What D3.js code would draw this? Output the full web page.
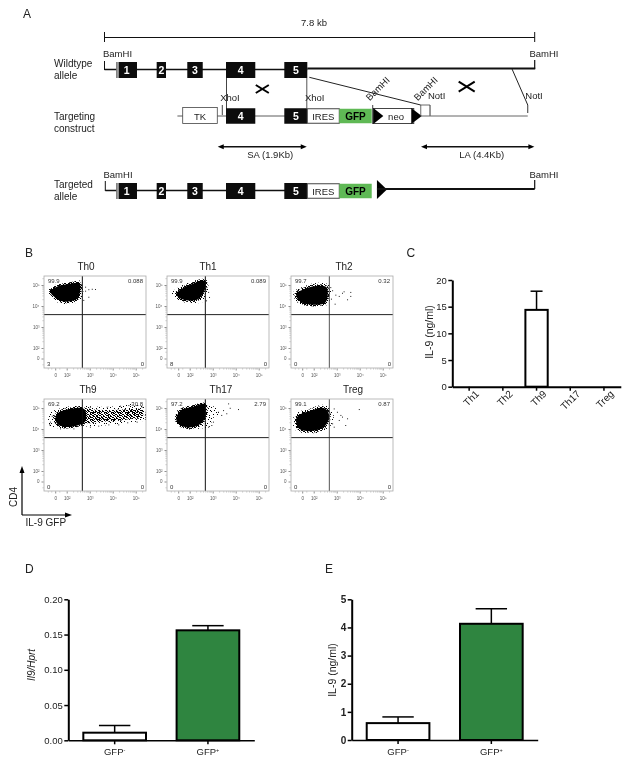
<!DOCTYPE html>
<html>
<head>
<meta charset="utf-8">
<script src="https://cdn.jsdelivr.net/npm/d3@7"></script>
<style>
  html, body { margin: 0; padding: 0; background: #fff; }
  text { font-family: "Liberation Sans", Arial, sans-serif; fill: #222; }
  svg { filter: blur(0.35px); }
</style>
</head>
<body>
<script>
// ---- panel A, positions along the locus in kb
const spanKb = 7.8;
const exonNames = ["1", "2", "3", "4", "5"];
const exonStart = [0.214, 0.946, 1.501, 2.203, 3.26];
const exonEnd = [0.589, 1.115, 1.781, 2.734, 3.677];
const cassetteNames = ["IRES", "GFP"];
const cassetteStart = [3.677, 4.257];
const cassetteEnd = [4.257, 4.845];
const tkSpan = [1.418, 2.045];
const neoSpan = [4.874, 5.752];
const homologyNames = ["SA (1.9Kb)", "LA (4.4Kb)"];
const homologyStart = [2.053, 5.739];
const homologyEnd = [3.667, 7.794];

// ---- panel B, flow plots, values in log10 decades
const flowNames = ["Th0", "Th1", "Th2", "Th9", "Th17", "Treg"];
const upperLeft = ["99.9", "99.9", "99.7", "69.2", "97.2", "99.1"];
const upperRight = ["0.088", "0.089", "0.32", "30.8", "2.79", "0.87"];
const lowerLeft = ["3", "8", "0", "0", "0", "0"];
const lowerRight = ["0", "0", "0", "0", "0", "0"];
const flowTickValues = [1.5, 2, 3, 4, 5];
const flowTickLabels = ["0", "10²", "10³", "10⁴", "10⁵"];
const flowMinorX = [1.2, 1.35, 1.7, 2.3, 2.48, 2.6, 2.7, 2.78, 2.85, 2.9, 2.95, 3.3, 3.48, 3.6, 3.7, 3.78, 3.85, 3.9, 3.95, 4.3, 4.48, 4.6, 4.7, 4.78, 4.85, 4.9, 4.95, 5.3];
const flowMinorY = [1.2, 1.8, 2.3, 2.48, 2.6, 2.7, 2.78, 2.85, 2.9, 2.95, 3.3, 3.48, 3.6, 3.7, 3.78, 3.85, 3.9, 3.95, 4.3, 4.48, 4.6, 4.7, 4.78, 4.85, 4.9, 4.95, 5.3];
const gateX = 2.68;
const gateY = 3.59;

// solid part of each cloud
const coreTh0 = [[1.3, 4.68], [1.57, 4.92], [2, 5.03], [2.55, 5.08], [2.58, 4.68], [2.43, 4.32], [1.86, 4.21], [1.49, 4.41]];
const coreTh1 = [[1.42, 4.59], [1.71, 4.86], [2.14, 5.06], [2.58, 5.22], [2.7, 5.11], [2.65, 4.75], [2.36, 4.32], [1.85, 4.27], [1.49, 4.43]];
const coreTh2 = [[1.24, 4.59], [1.57, 4.8], [2.07, 4.95], [2.55, 4.9], [2.61, 4.51], [2.5, 4.16], [1.71, 4.08], [1.35, 4.27]];
const coreTh9 = [[1.53, 4.63], [1.71, 4.82], [2.14, 4.95], [2.58, 5.01], [2.8, 4.9], [2.8, 4.35], [2.43, 4.16], [1.85, 4.11], [1.57, 4.27]];
const coreTh17 = [[1.42, 4.54], [1.63, 4.9], [2.14, 5.06], [2.65, 5.18], [2.7, 4.67], [2.5, 4.27], [2.07, 4.08], [1.63, 4.16], [1.45, 4.35]];
const coreTreg = [[1.24, 4.48], [1.42, 4.7], [1.85, 4.86], [2.36, 5.01], [2.61, 4.86], [2.65, 4.43], [2.36, 4.03], [1.71, 3.9], [1.35, 4.03]];
const cores = [coreTh0, coreTh1, coreTh2, coreTh9, coreTh17, coreTreg];

// thin edge around each cloud
const fringeTh0 = [[1.15, 4.72], [1.5, 5], [2, 5.12], [2.62, 5.2], [2.72, 4.8], [2.65, 4.3], [2.3, 4.12], [1.75, 4.12], [1.35, 4.35]];
const fringeTh1 = [[1.22, 4.6], [1.6, 4.95], [2.1, 5.17], [2.6, 5.32], [2.78, 5.15], [2.8, 4.7], [2.6, 4.22], [1.9, 4.15], [1.35, 4.35]];
const fringeTh2 = [[1.12, 4.65], [1.5, 4.9], [2.1, 5.1], [2.68, 5], [2.75, 4.5], [2.65, 4.08], [1.7, 4], [1.25, 4.2]];
const fringeTh9 = [[1.27, 4.75], [2, 5.06], [2.65, 5.11], [3.74, 5.05], [5.04, 5.18], [5.5, 4.98], [5.5, 4.48], [4.75, 4.32], [3.88, 4.19], [2.72, 4.11], [1.71, 4.03], [1.24, 4.19]];
const fringeTh17 = [[2.65, 5.18], [3.16, 5.01], [3.33, 4.75], [3.01, 4.51], [2.87, 4.11], [2.58, 4.03], [1.6, 4.05], [1.3, 4.5], [1.55, 4.98], [2.1, 5.15]];
const fringeTreg = [[1.1, 4.5], [1.35, 4.82], [1.85, 4.98], [2.4, 5.15], [2.78, 5], [2.85, 4.4], [2.5, 3.92], [1.7, 3.8], [1.2, 3.95]];
const fringes = [fringeTh0, fringeTh1, fringeTh2, fringeTh9, fringeTh17, fringeTreg];

// the denser stretch of the Th9 positive population
const bandTh9 = [[2.72, 4.95], [3.3, 4.92], [4.03, 4.9], [4.75, 4.95], [5.26, 4.92], [5.3, 4.54], [4.75, 4.48], [4.17, 4.38], [3.45, 4.35], [2.72, 4.32]];

const straysTh0 = [[2.8, 4.92], [2.94, 4.8], [3.09, 4.82], [3.23, 4.81], [2.8, 4.73], [2.94, 4.44], [2.72, 4.29]];
const straysTh1 = [[2.72, 4.9], [2.8, 4.67], [2.84, 4.43], [2.71, 4.27]];
const straysTh2 = [[2.8, 4.75], [2.94, 4.54], [3.09, 4.48], [3.23, 4.63], [3.3, 4.7], [3.59, 4.67], [3.59, 4.48], [3.45, 4.32], [2.91, 4.11], [2.72, 4.9], [2.75, 4.35]];
const straysTh9 = [[1.27, 4.35], [1.35, 4.63], [1.24, 4.22], [3.01, 5.06], [3.74, 5.06], [4.32, 5.11], [4.68, 5.14], [5.04, 5.14], [5.26, 5.06], [5.42, 4.82], [5.4, 4.67], [3.01, 4.11], [3.37, 4.16], [3.81, 4.22], [4.24, 4.22], [4.63, 4.32], [5.04, 4.35], [5.4, 4.48], [2.29, 4.03], [1.71, 4.03]];
const straysTh17 = [[3.67, 5.22], [3.74, 5.01], [4.1, 4.95], [3.45, 4.9], [3.59, 4.75], [3.37, 4.67], [2.94, 4.19], [3.01, 4.35], [2.8, 4.11], [3.23, 4.82]];
const straysTreg = [[2.87, 4.98], [3.01, 4.82], [3.16, 4.67], [3.09, 4.43], [3.45, 4.51], [3.96, 4.95], [3.37, 4.19], [2.87, 4.11], [2.8, 4.27], [3.23, 4.59]];
const strays = [straysTh0, straysTh1, straysTh2, straysTh9, straysTh17, straysTreg];

// ---- panel C
const cCategories = ["Th1", "Th2", "Th9", "Th17", "Treg"];
const cValues = [0, 0, 14.4, 0, 0];
const cErrors = [0, 0, 3.5, 0, 0];
const cTicks = [0, 5, 10, 15, 20];

// ---- panels D and E
const gfpCategories = ["GFP-", "GFP+"];
const dValues = [0.0108, 0.156];
const dErrors = [0.0102, 0.0066];
const dTicks = [0, 0.05, 0.1, 0.15, 0.2];
const eValues = [0.6, 4.13];
const eErrors = [0.22, 0.53];
const eTicks = [0, 1, 2, 3, 4, 5];

const green = "#2f8540";
const gfpGreen = "#5fb955";

const svg = d3.select("body").append("svg")
  .attr("width", 630)
  .attr("height", 767)
  .style("display", "block");

const defs = svg.append("defs");

// speckle used for the loose parts of the clouds
function speckle(id, size, cells) {
  const p = defs.append("pattern")
    .attr("id", id)
    .attr("patternUnits", "userSpaceOnUse")
    .attr("width", size)
    .attr("height", size);
  p.selectAll("rect")
    .data(cells)
    .join("rect")
    .attr("x", (d) => d[0])
    .attr("y", (d) => d[1])
    .attr("width", 1)
    .attr("height", 1)
    .attr("fill", "#000");
}
speckle("sparse", 11, [[0, 1], [3, 0], [7, 2], [9, 5], [2, 4], [5, 6], [0, 8], [8, 9], [4, 9], [10, 0], [6, 4], [2, 7], [9, 7], [5, 2]]);
speckle("dense", 7, [[0, 0], [2, 1], [4, 0], [6, 2], [1, 3], [3, 3], [5, 4], [0, 5], [2, 5], [4, 6], [6, 6], [3, 2], [5, 1], [1, 6], [1, 1], [4, 3], [6, 4], [3, 5], [0, 2], [2, 4], [5, 6], [6, 0]]);

function letter(t, x, y) {
  svg.append("text").attr("x", x).attr("y", y).attr("font-size", 12).text(t);
}
letter("A", 23, 18);
letter("B", 25, 257);
letter("C", 406.5, 257);
letter("D", 25, 573);
letter("E", 325, 573);

// ---- A: gene targeting scheme
const kb = d3.scaleLinear().domain([0, spanKb]).range([104.5, 534.7]);
const a = svg.append("g");

function hline(x1, x2, y, w, color) {
  a.append("line").attr("x1", x1).attr("x2", x2).attr("y1", y).attr("y2", y)
    .attr("stroke", color || "#111").attr("stroke-width", w);
}
function seg(x1, y1, x2, y2, w, color) {
  a.append("line").attr("x1", x1).attr("y1", y1).attr("x2", x2).attr("y2", y2)
    .attr("stroke", color || "#111").attr("stroke-width", w);
}
function label(t, x, y, size, anchor, weight, rotate) {
  const n = a.append("text")
    .attr("font-size", size)
    .attr("text-anchor", anchor || "start")
    .attr("font-weight", weight || "normal")
    .text(t);
  if (rotate) n.attr("transform", `translate(${x},${y}) rotate(${rotate})`);
  else n.attr("x", x).attr("y", y);
  return n;
}
function exons(ids, y, h) {
  ids.forEach((i) => {
    a.append("rect")
      .attr("x", kb(exonStart[i]))
      .attr("y", y - h / 2)
      .attr("width", kb(exonEnd[i]) - kb(exonStart[i]))
      .attr("height", h)
      .attr("fill", "#0c0c0c");
    a.append("text")
      .attr("x", (kb(exonStart[i]) + kb(exonEnd[i])) / 2)
      .attr("y", y + 4)
      .attr("text-anchor", "middle")
      .attr("font-size", 10.5)
      .attr("font-weight", "bold")
      .style("fill", "#fff")
      .text(exonNames[i]);
  });
}
function cassette(y, h) {
  cassetteNames.forEach((name, i) => {
    const isGfp = name === "GFP";
    a.append("rect")
      .attr("x", kb(cassetteStart[i]))
      .attr("y", y - h / 2)
      .attr("width", kb(cassetteEnd[i]) - kb(cassetteStart[i]))
      .attr("height", h)
      .attr("fill", isGfp ? gfpGreen : "#fff")
      .attr("stroke", isGfp ? "none" : "#444")
      .attr("stroke-width", 1);
    a.append("text")
      .attr("x", (kb(cassetteStart[i]) + kb(cassetteEnd[i])) / 2)
      .attr("y", y + 3.5)
      .attr("text-anchor", "middle")
      .attr("font-size", isGfp ? 10 : 9.5)
      .attr("font-weight", isGfp ? "bold" : "normal")
      .style("fill", isGfp ? "#000" : "#222")
      .text(name);
  });
}
function triangle(x, y, w, h) {
  a.append("path")
    .attr("d", d3.line()([[x, y - h / 2], [x + w, y], [x, y + h / 2]]) + "Z")
    .attr("fill", "#000");
}
function doubleArrow(x1, x2, y) {
  seg(x1 + 3, y, x2 - 3, y, 1.5);
  a.append("path").attr("d", d3.line()([[x1, y], [x1 + 6, y - 2.5], [x1 + 6, y + 2.5]]) + "Z").attr("fill", "#000");
  a.append("path").attr("d", d3.line()([[x2, y], [x2 - 6, y - 2.5], [x2 - 6, y + 2.5]]) + "Z").attr("fill", "#000");
}
function cross(x, y, w, h) {
  seg(x - w, y - h, x + w, y + h, 2, "#000");
  seg(x - w, y + h, x + w, y - h, 2, "#000");
}
function firstExonStrip(y, h) {
  a.append("rect")
    .attr("x", kb(exonStart[0]))
    .attr("y", y - h / 2)
    .attr("width", 2.6)
    .attr("height", h)
    .attr("fill", "#999");
}

// span of the locus
hline(kb(0), kb(spanKb), 37.5, 1);
seg(kb(0), 32, kb(0), 42, 1);
seg(kb(spanKb), 32, kb(spanKb), 42, 1);
label("7.8 kb", 314, 26, 9.5, "middle");

// wildtype allele
label("Wildtype", 54, 67, 10);
label("allele", 54, 79, 10);
label("BamHI", 103, 57, 9.5);
label("BamHI", 544, 57, 9.5, "middle");
seg(kb(0), 61, kb(0), 70, 1);
hline(kb(0), kb(3.677), 69.5, 1.5);
hline(kb(3.677), kb(spanKb) + 0.5, 68.5, 2);
seg(kb(spanKb), 60, kb(spanKb), 69, 1.2);
exons([0, 1, 2, 3, 4], 70, 16);
firstExonStrip(70, 16);

// homologous recombination arms
seg(kb(2.203) + 0.5, 78, kb(2.203) + 0.5, 109, 1, "#444");
seg(kb(3.677) - 0.5, 78, kb(3.677) - 0.5, 108, 1, "#555");
seg(kb(3.714), 77.3, kb(5.734), 105, 1, "#222");
seg(kb(7.389), 69, kb(7.674), 105, 1, "#222");
seg(kb(7.674), 105, kb(7.674), 113, 1, "#333");
cross(262.3, 89, 6.5, 4);
cross(466.7, 86.7, 8, 5);

// targeting construct
label("Targeting", 54, 119.5, 10);
label("construct", 54, 131.5, 10);
hline(kb(1.322), kb(3.3), 116, 0.8, "#333");
a.append("rect")
  .attr("x", kb(tkSpan[0]))
  .attr("y", 107.5)
  .attr("width", kb(tkSpan[1]) - kb(tkSpan[0]))
  .attr("height", 16)
  .attr("fill", "#fff")
  .attr("stroke", "#444")
  .attr("stroke-width", 0.8);
label("TK", (kb(tkSpan[0]) + kb(tkSpan[1])) / 2, 120, 9.5, "middle");
seg(kb(2.136), 105, kb(2.136), 115, 0.8);
exons([3, 4], 116, 15.5);
cassette(116, 14.5);

// neo with its flanking triangles
seg(kb(4.863), 105, kb(4.863), 124, 0.8);
a.append("rect")
  .attr("x", kb(neoSpan[0]))
  .attr("y", 108.5)
  .attr("width", kb(neoSpan[1]) - kb(neoSpan[0]) - 8)
  .attr("height", 15)
  .attr("fill", "#fff")
  .attr("stroke", "#444")
  .attr("stroke-width", 1);
triangle(kb(neoSpan[0]), 116, 10, 16);
triangle(kb(neoSpan[1]) - 10.5, 116, 10.5, 16);
label("neo", (kb(neoSpan[0]) + kb(neoSpan[1])) / 2 - 1.5, 120, 9.5, "middle");
seg(kb(5.734), 105, kb(5.902), 105, 0.8, "#444");
seg(kb(5.734), 105, kb(5.734), 116, 0.8, "#444");
seg(kb(5.902), 105, kb(5.902), 116, 1, "#333");
hline(kb(5.734), kb(7.674), 116, 1, "#666");

label("XhoI", 230, 101, 9.5, "middle");
label("XhoI", 314.7, 101, 9.5, "middle");
label("BamHI", 380, 91, 9.5, "middle", "normal", -45);
label("BamHI", 428, 91, 9.5, "middle", "normal", -45);
label("NotI", 436.7, 98.5, 9.5, "middle");
label("NotI", 534, 98.5, 9.5, "middle");

// homology arms
homologyNames.forEach((name, i) => {
  doubleArrow(kb(homologyStart[i]), kb(homologyEnd[i]), 146.7);
  label(name, (kb(homologyStart[i]) + kb(homologyEnd[i])) / 2 + (i ? 4 : 8), 157.5, 9.5, "middle");
});

// targeted allele
label("Targeted", 54, 187.5, 10);
label("allele", 54, 200, 10);
label("BamHI", 103.5, 177.5, 9.5);
label("BamHI", 544, 177.5, 9.5, "middle");
seg(kb(0) + 0.8, 181, kb(0) + 0.8, 191, 1);
hline(kb(0) + 0.8, kb(3.3), 190.5, 1.5);
exons([0, 1, 2, 3, 4], 191, 16);
firstExonStrip(191, 16);
cassette(191, 14.5);
triangle(kb(4.94), 189.5, 10, 19);
hline(kb(4.94), kb(spanKb), 189, 2);
seg(kb(spanKb), 180, kb(spanKb), 189, 1.2);

// ---- B: flow plots
const flowLeft = [44, 167, 291, 44, 167, 291];
const flowTop = [276, 276, 276, 399, 399, 399];
const flowTitleX = [86, 208, 344, 88, 221, 353];
const flowW = 102;
const flowH = 92;

const flowX = d3.scaleLinear().domain([2, 5]).range([22.7, 91.7]);
const flowY = d3.scaleLinear().domain([5, 2]).range([9, 72]);
const cloud = d3.line()
  .x((d) => flowX(d[0]))
  .y((d) => flowY(d[1]))
  .curve(d3.curveCatmullRomClosed);

flowNames.forEach((name, i) => {
  const g = svg.append("g").attr("transform", `translate(${flowLeft[i]},${flowTop[i]})`);

  g.append("text")
    .attr("x", flowTitleX[i] - flowLeft[i])
    .attr("y", -6)
    .attr("text-anchor", "middle")
    .attr("font-size", 10)
    .text(name);

  defs.append("clipPath").attr("id", "clip" + i)
    .append("rect").attr("width", flowW).attr("height", flowH);

  const plot = g.append("g").attr("clip-path", `url(#clip${i})`);
  plot.append("path").attr("d", cloud(fringes[i])).attr("fill", "url(#sparse)");
  if (name === "Th9") {
    plot.append("path").attr("d", cloud(bandTh9)).attr("fill", "url(#dense)");
  }
  plot.append("path")
    .attr("d", cloud(cores[i]))
    .attr("fill", "#000")
    .attr("stroke", "url(#dense)")
    .attr("stroke-width", 3);
  plot.selectAll(".stray")
    .data(strays[i])
    .join("rect")
    .attr("class", "stray")
    .attr("x", (d) => flowX(d[0]))
    .attr("y", (d) => flowY(d[1]))
    .attr("width", 1)
    .attr("height", 1)
    .attr("fill", "#222");

  // gates
  const gateColor = i === 2 || i === 5 ? "#555" : "#111";
  g.append("line").attr("x1", flowX(gateX)).attr("x2", flowX(gateX)).attr("y1", 0).attr("y2", flowH)
    .attr("stroke", gateColor).attr("stroke-width", 1);
  g.append("line").attr("x1", 0).attr("x2", flowW).attr("y1", flowY(gateY)).attr("y2", flowY(gateY))
    .attr("stroke", "#222").attr("stroke-width", 1);

  g.append("rect").attr("width", flowW).attr("height", flowH)
    .attr("fill", "none").attr("stroke", "#aaa").attr("stroke-width", 0.8);

  // axes
  const ax = g.append("g").attr("transform", `translate(0,${flowH + 0.5})`)
    .call(d3.axisBottom(flowX).tickValues(flowTickValues).tickFormat((d, j) => flowTickLabels[j]).tickSize(2).tickPadding(3));
  const ay = g.append("g").attr("transform", "translate(-0.5,0)")
    .call(d3.axisLeft(flowY).tickValues(flowTickValues).tickFormat((d, j) => flowTickLabels[j]).tickSize(2).tickPadding(2));
  [ax, ay].forEach((s) => {
    s.select(".domain").remove();
    s.selectAll("line").attr("stroke", "#444").attr("stroke-width", 0.6);
    s.selectAll("text").attr("font-size", 4.5).style("fill", "#555")
      .style("font-family", '"Liberation Sans", Arial, sans-serif');
  });
  g.append("g").selectAll("line").data(flowMinorX).join("line")
    .attr("x1", (d) => flowX(d)).attr("x2", (d) => flowX(d))
    .attr("y1", flowH + 0.5).attr("y2", flowH + 1.5)
    .attr("stroke", "#666").attr("stroke-width", 0.4);
  g.append("g").selectAll("line").data(flowMinorY).join("line")
    .attr("x1", -1.5).attr("x2", -0.5)
    .attr("y1", (d) => flowY(d)).attr("y2", (d) => flowY(d))
    .attr("stroke", "#666").attr("stroke-width", 0.4);

  // quadrant percentages
  const corner = (t, x, y, anchor) => g.append("text")
    .attr("x", x).attr("y", y).attr("text-anchor", anchor)
    .attr("font-size", 6).style("fill", "#333").text(t);
  corner(upperLeft[i], 4, 7, "start");
  corner(upperRight[i], flowW - 3, 7, "end");
  corner(lowerLeft[i], 3, flowH - 2, "start");
  corner(lowerRight[i], flowW - 2, flowH - 2, "end");
});

// CD4 / GFP key
const key = svg.append("g");
key.append("path").attr("d", d3.line()([[22, 515], [22, 471]])).attr("stroke", "#000").attr("stroke-width", 1.2).attr("fill", "none");
key.append("path").attr("d", d3.line()([[22, 515], [67, 515]])).attr("stroke", "#000").attr("stroke-width", 1.2).attr("fill", "none");
key.append("path").attr("d", d3.line()([[22, 466], [19.5, 473], [24.5, 473]]) + "Z").attr("fill", "#000");
key.append("path").attr("d", d3.line()([[72, 515], [65, 512.5], [65, 517.5]]) + "Z").attr("fill", "#000");
key.append("text").attr("x", 25.5).attr("y", 526).attr("font-size", 10).text("IL-9 GFP");
key.append("text").attr("transform", "translate(17,497) rotate(-90)").attr("text-anchor", "middle").attr("font-size", 10).text("CD4");

// ---- C, D, E: bar charts
function barChart(opts) {
  const g = svg.append("g");
  const x = d3.scaleBand()
    .domain(opts.categories)
    .range(opts.xRange)
    .paddingInner(opts.paddingInner)
    .paddingOuter(opts.paddingOuter);
  const y = d3.scaleLinear().domain(opts.yDomain).range(opts.yRange);

  const rows = opts.categories.map((c, i) => ({ c, v: opts.values[i], e: opts.errors[i] }))
    .filter((d) => d.v > 0);

  const mid = (d) => x(d.c) + x.bandwidth() / 2;
  g.selectAll(".err").data(rows).join("line").attr("class", "err")
    .attr("x1", mid).attr("x2", mid)
    .attr("y1", (d) => y(d.v)).attr("y2", (d) => y(d.v + d.e))
    .attr("stroke", "#000").attr("stroke-width", 1.5);
  g.selectAll(".cap").data(rows).join("line").attr("class", "cap")
    .attr("x1", (d) => mid(d) - opts.cap).attr("x2", (d) => mid(d) + opts.cap)
    .attr("y1", (d) => y(d.v + d.e)).attr("y2", (d) => y(d.v + d.e))
    .attr("stroke", "#000").attr("stroke-width", 1.5);
  g.selectAll(".bar").data(rows).join("rect").attr("class", "bar")
    .attr("x", (d) => x(d.c))
    .attr("y", (d) => y(d.v))
    .attr("width", x.bandwidth())
    .attr("height", (d) => y(0) - y(d.v))
    .attr("fill", (d) => (opts.fills ? opts.fills[opts.categories.indexOf(d.c)] : "#fff"))
    .attr("stroke", "#000")
    .attr("stroke-width", 2);

  const ax = g.append("g")
    .attr("transform", `translate(0,${opts.yRange[0]})`)
    .call(d3.axisBottom(x).tickSize(4).tickSizeOuter(0).tickPadding(opts.xPad));
  const ay = g.append("g")
    .attr("transform", `translate(${opts.xRange[0]},0)`)
    .call(d3.axisLeft(y).tickValues(opts.ticks).tickFormat(opts.format).tickSize(4).tickSizeOuter(0).tickPadding(1.5));
  ax.select(".domain").attr("stroke", "#000").attr("stroke-width", opts.xAxisWidth);
  ay.select(".domain").attr("stroke", "#000").attr("stroke-width", 2);
  ax.selectAll("line").attr("stroke", "#000").attr("stroke-width", 1.5);
  ay.selectAll("line").attr("stroke", "#000").attr("stroke-width", 1.5);
  [ax, ay].forEach((s) => s.selectAll("text")
    .style("font-family", '"Liberation Sans", Arial, sans-serif')
    .style("fill", "#222"));
  ay.selectAll("text").attr("font-size", opts.ySize).attr("font-weight", opts.yWeight || "normal");
  ax.selectAll("text").attr("font-size", opts.xSize);

  g.append("text")
    .attr("transform", `translate(${opts.titleX},${opts.titleY}) rotate(-90)`)
    .attr("text-anchor", "middle")
    .attr("font-size", opts.titleSize)
    .attr("font-style", opts.titleStyle || "normal")
    .text(opts.title);
  return ax;
}

const axC = barChart({
  categories: cCategories,
  values: cValues,
  errors: cErrors,
  ticks: cTicks,
  format: d3.format("d"),
  xRange: [452.3, 620.8],
  paddingInner: 0.338,
  paddingOuter: 0.169,
  yDomain: [0, 20],
  yRange: [386.7, 280],
  cap: 6,
  xPad: 3,
  xAxisWidth: 2,
  xSize: 10,
  ySize: 9.5,
  title: "IL-9 (ng/ml)",
  titleX: 433,
  titleY: 332,
  titleSize: 10.5
});
axC.selectAll("text")
  .attr("text-anchor", "end")
  .attr("dx", 2)
  .attr("dy", 6)
  .attr("transform", "rotate(-45)");

const gfpOptions = {
  categories: gfpCategories,
  paddingInner: 0.328,
  paddingOuter: 0.161,
  fills: ["#fff", green],
  cap: 15.7,
  xPad: 4,
  xAxisWidth: 1.5,
  xSize: 9.5
};

const axD = barChart(Object.assign({}, gfpOptions, {
  values: dValues,
  errors: dErrors,
  ticks: dTicks,
  format: d3.format(".2f"),
  xRange: [68.3, 254.3],
  yDomain: [0, 0.2],
  yRange: [740.3, 599.3],
  ySize: 9.5,
  title: "Il9/Hprt",
  titleStyle: "italic",
  titleX: 35,
  titleY: 665,
  titleSize: 10
}));

const axE = barChart(Object.assign({}, gfpOptions, {
  values: eValues,
  errors: eErrors,
  ticks: eTicks,
  format: d3.format("d"),
  xRange: [351.7, 537.7],
  yDomain: [0, 5],
  yRange: [740, 599.3],
  ySize: 10,
  yWeight: "bold",
  title: "IL-9 (ng/ml)",
  titleX: 336,
  titleY: 670,
  titleSize: 10.5
}));

// GFP- / GFP+ with raised sign
[axD, axE].forEach((s) => {
  s.selectAll("text").each(function (d) {
    const t = d3.select(this);
    t.text(d.slice(0, 3));
    t.append("tspan").attr("font-size", 5.5).attr("dy", -3).text(d.slice(3));
  });
});
</script>
</body>
</html>
